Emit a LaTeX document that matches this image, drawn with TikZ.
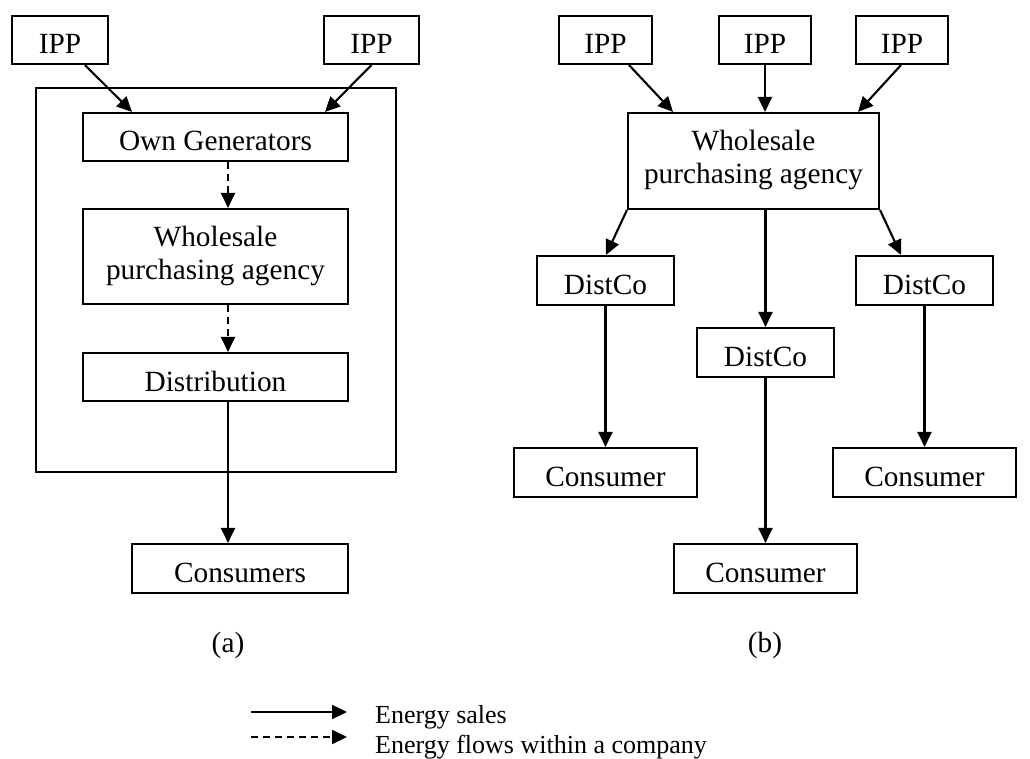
\documentclass[tikz,border=0pt]{standalone}
\usepackage{fontspec}
\setmainfont{Liberation Serif}
\usetikzlibrary{arrows.meta}

\begin{document}
\begin{tikzpicture}[x=1pt,y=-1pt,
  mainfont/.style={font=\fontsize{29.3}{33}\selectfont},
  box/.style={draw, line width=2.1pt, inner sep=0pt, mainfont,
              text height=33pt, text depth=5pt},
  box2/.style={box, align=center, text height=51pt, text depth=5pt},
  flow/.style={line width=2.1pt, -{Triangle[length=15pt,width=14pt]}},
  inflow/.style={flow, dash pattern=on 7pt off 5pt},
  caption/.style={anchor=base, inner sep=0pt, mainfont},
  legend/.style={anchor=base west, inner sep=0pt, font=\fontsize{26}{30}\selectfont},
]
\useasboundingbox (0,0) rectangle (1030,759);

% ---------- (a) vertically integrated utility ----------
\node[draw, line width=2.1pt, minimum width=360pt, minimum height=384pt, inner sep=0pt]
  (company) at (216,280) {};
\node[box, minimum width=96pt, minimum height=48pt] (ippA1) at (60,40) {IPP};
\node[box, minimum width=95pt, minimum height=48pt] (ippA2) at (371.5,40) {IPP};
\node[box, minimum width=265pt, minimum height=48pt] (own) at (215.5,137) {Own Generators};
\node[box2, minimum width=265pt, minimum height=95pt] (wspA) at (215.5,256.5)
  {Wholesale\\purchasing agency};
\node[box, minimum width=265pt, minimum height=48pt] (dist) at (215.5,377) {Distribution};
\node[box, minimum width=216pt, minimum height=49pt] (consA) at (240,568.5) {Consumers};
\coordinate (axA) at (228,0);

\draw[flow] ([xshift=25pt]ippA1.south) -- ([xshift=-83.5pt]own.north);
\draw[flow] (ippA2.south) -- ([xshift=109.5pt]own.north);
\draw[inflow] (own.south -| axA) -- (wspA.north -| axA);
\draw[inflow] (wspA.south -| axA) -- (dist.north -| axA);
\draw[flow] (dist.south -| axA) -- (consA.north -| axA);

\node[caption] (capA) at (228,652) {(a)};

% ---------- (b) purchasing agency with separate distribution companies ----------
\node[box, minimum width=93pt, minimum height=48pt] (ippB1) at (605.5,40) {IPP};
\node[box, minimum width=92pt, minimum height=48pt] (ippB2) at (765,40) {IPP};
\node[box, minimum width=92pt, minimum height=48pt] (ippB3) at (902,40) {IPP};
\node[box2, minimum width=251pt, minimum height=96pt] (wspB) at (753.5,161)
  {Wholesale\\purchasing agency};
\node[box, minimum width=137pt, minimum height=49pt] (dcL) at (605.5,280.5) {DistCo};
\node[box, minimum width=137pt, minimum height=49pt] (dcM) at (765.5,352.5) {DistCo};
\node[box, minimum width=137pt, minimum height=49pt] (dcR) at (924.5,280.5) {DistCo};
\node[box, minimum width=183pt, minimum height=49pt] (cL) at (605.5,472.5) {Consumer};
\node[box, minimum width=183pt, minimum height=49pt] (cM) at (765.5,568.5) {Consumer};
\node[box, minimum width=183pt, minimum height=49pt] (cR) at (924.5,472.5) {Consumer};

\draw[flow] ([xshift=23.5pt]ippB1.south) -- ([xshift=-80.5pt]wspB.north);
\draw[flow] (ippB2.south) -- (ippB2.south |- wspB.north);
\draw[flow] ([xshift=-1pt]ippB3.south) -- ([xshift=104.5pt]wspB.north);
\draw[flow] (wspB.south west) -- ([xshift=0.5pt]dcL.north);
\draw[flow] (wspB.south -| dcM) -- (dcM.north);
\draw[flow] (wspB.south east) -- ([xshift=-23.5pt]dcR.north);
\draw[flow] (dcL.south) -- (cL.north);
\draw[flow] (dcM.south) -- (cM.north);
\draw[flow] (dcR.south) -- (cR.north);

\node[caption] (capB) at (765,652) {(b)};

% ---------- legend ----------
\coordinate (solidA) at (251,712);
\coordinate (solidB) at (347,712);
\coordinate (dashA) at (251,737);
\coordinate (dashB) at (347,737);
\draw[flow] (solidA) -- (solidB);
\draw[inflow] (dashA) -- (dashB);
\node[legend] (lgSales) at (375,723) {Energy sales};
\node[legend] (lgFlows) at (375,753) {Energy flows within a company};
\end{tikzpicture}
\end{document}
